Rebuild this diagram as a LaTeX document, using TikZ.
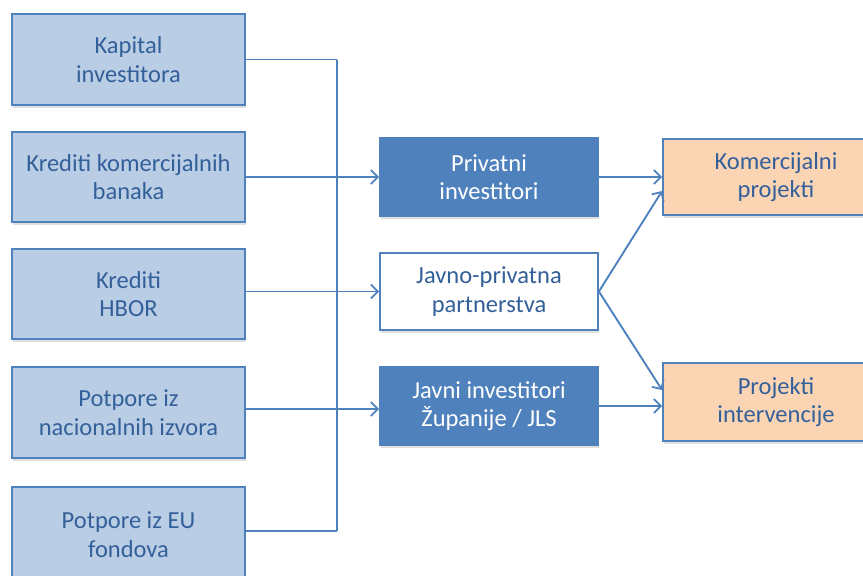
\documentclass[tikz,border=0pt]{standalone}
\usepackage{fontspec}
\setmainfont{Carlito}
\usetikzlibrary{arrows.meta,shadows}
\definecolor{lineblue}{HTML}{4F81BD}
\definecolor{lightfill}{HTML}{B9CDE5}
\definecolor{peach}{HTML}{FBD4B4}
\definecolor{txtblue}{HTML}{34609A}
\tikzset{
  base/.style={draw=lineblue, line width=1.8pt, align=center, inner sep=0pt,
    font=\fontsize{24.5}{28.5}\selectfont,
    drop shadow={opacity=0.25, shadow xshift=1pt, shadow yshift=-2.5pt}},
  srcbox/.style={base, fill=lightfill, text=txtblue, minimum width=233pt},
  midfill/.style={base, fill=lineblue, text=white, minimum width=218pt, minimum height=78pt},
  midwhite/.style={base, fill=white, text=txtblue, minimum width=218pt, minimum height=77pt},
  tgtbox/.style={base, fill=peach, text=txtblue, minimum width=226pt},
  conn/.style={draw=lineblue, line width=1.9pt},
  arr/.style={conn, -{Straight Barb[length=7pt,width=14pt,line width=1.8pt]}}
}
\begin{document}
\begin{tikzpicture}[x=1pt,y=-1pt]
\useasboundingbox (0,0) rectangle (863,576);
% source boxes
\node[srcbox, minimum height=91pt] (b1) at (128.5,59.5) {Kapital\\investitora};
\node[srcbox, minimum height=90pt] (b2) at (128.5,177) {Krediti komercijalnih\\banaka};
\node[srcbox, minimum height=90pt] (b3) at (128.5,294) {Krediti\\HBOR};
\node[srcbox, minimum height=91pt] (b4) at (128.5,412.5) {Potpore iz\\nacionalnih izvora};
\node[srcbox, minimum height=95pt] (b5) at (128.5,534.5) {Potpore iz EU\\fondova};
% middle boxes
\node[midfill] (priv) at (489,177) {Privatni\\investitori};
\node[midwhite] (jpp) at (489,291.5) {Javno-privatna\\partnerstva};
\node[midfill] (javni) at (489,406) {Javni investitori\\Županije / JLS};
% target boxes
\node[tgtbox, minimum height=76pt] (kom) at (776,177) {Komercijalni\\projekti};
\node[tgtbox, minimum height=78pt] (proj) at (776,402) {Projekti\\intervencije};
% bus
\coordinate (bt) at (337,59.5);
\coordinate (bb) at (337,531);
\draw[conn] (b1.east) -- (bt);
\draw[conn] ([yshift=3.5pt]b5.east) -- (bb);
\draw[conn] (bt) -- (bb);
\draw[arr] (b2.east) -- (priv.west);
\draw[arr] (b3.east |- jpp.west) -- (jpp.west);
\draw[arr] (b4.east |- 0,409) -- (javni.west |- 0,409);
% middle to targets
\draw[arr] (priv.east) -- (kom.west);
\draw[arr] (javni.east) -- (proj.west |- javni.east);
\draw[arr] (jpp.east) -- ([yshift=-14pt]kom.west);
\draw[arr] (jpp.east) -- ([yshift=12pt]proj.west);
\end{tikzpicture}
\end{document}
